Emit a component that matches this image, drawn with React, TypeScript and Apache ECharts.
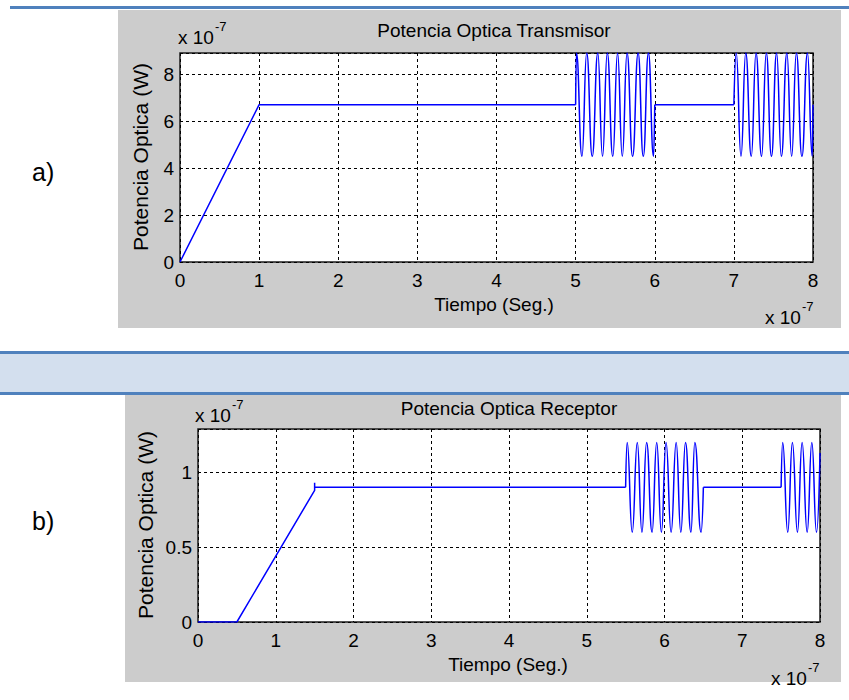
import React, { useEffect, useRef } from 'react';
import * as echarts from 'echarts';

// ---- data (time in units of 1e-7 s, power in units of 1e-7 W) ----
const xTickValues = [0, 1, 2, 3, 4, 5, 6, 7, 8];
const txYTickValues = [0, 2, 4, 6, 8];
const rxYTickValues = [0, 0.5, 1];

// Transmisor: ramp + flat parts
const txRampTime = [0, 1, 5];
const txRampPower = [0, 6.7, 6.7];
const txFlatTime = [6, 7];
const txFlatPower = [6.7, 6.7];
// Transmisor bursts (read peaks / troughs)
const txBurst1Time = [5.0, 5.01, 5.08, 5.14, 5.21, 5.28, 5.34, 5.40, 5.47, 5.53, 5.59, 5.65, 5.72, 5.79, 5.855, 5.92, 5.985, 6.0];
const txBurst1Power = [6.7, 8.9, 4.5, 8.9, 4.5, 8.9, 4.5, 8.9, 4.5, 8.9, 4.5, 8.9, 4.5, 8.9, 4.5, 8.9, 4.5, 6.7];
const txBurst2Time = [7.0, 7.03, 7.09, 7.15, 7.22, 7.28, 7.35, 7.41, 7.475, 7.54, 7.60, 7.67, 7.73, 7.79, 7.86, 7.93, 7.99, 8.0];
const txBurst2Power = [6.7, 8.9, 4.5, 8.9, 4.5, 8.9, 4.5, 8.9, 4.5, 8.9, 4.5, 8.9, 4.5, 8.9, 4.5, 8.9, 4.5, 6.7];

// Receptor: delay + ramp + flat parts
const rxRampTime = [0, 0.5, 1.5, 1.5, 1.5, 5.5];
const rxRampPower = [0, 0, 0.88, 0.93, 0.9, 0.9];
const rxFlatTime = [6.5, 7.5];
const rxFlatPower = [0.9, 0.9];
const rxBurst1Time = [5.5, 5.52, 5.585, 5.65, 5.71, 5.77, 5.84, 5.90, 5.96, 6.02, 6.085, 6.15, 6.21, 6.27, 6.34, 6.39, 6.47, 6.5];
const rxBurst1Power = [0.9, 1.2, 0.6, 1.2, 0.6, 1.2, 0.6, 1.2, 0.6, 1.2, 0.6, 1.2, 0.6, 1.2, 0.6, 1.2, 0.6, 0.9];
const rxBurst2Time = [7.5, 7.52, 7.585, 7.645, 7.71, 7.77, 7.835, 7.895, 7.955, 8.0];
const rxBurst2Power = [0.9, 1.2, 0.6, 1.2, 0.6, 1.2, 0.6, 1.2, 0.6, 1.13];

const pair = (t: number[], v: number[]) => t.map((x, i) => [x, v[i]]);

const FONT = '"Liberation Sans", Arial, Helvetica, sans-serif';
const LINE = '#0000ff';

export default function App() {
  const ref = useRef<HTMLDivElement>(null);
  useEffect(() => {
    if (!ref.current) return;
    const chart = echarts.init(ref.current, undefined, { renderer: 'svg' });

    const mkX = (gridIndex: number, margin: number) => ({
      type: 'value', gridIndex, min: 0, max: 8, interval: 1,
      axisLine: { show: false }, axisTick: { show: false },
      axisLabel: {
        color: '#000', fontSize: 19, fontFamily: FONT, margin,
        formatter: (v: number) => (xTickValues.includes(v) ? String(v) : ''),
      },
      splitLine: { show: true, lineStyle: { color: '#000', type: [3, 3], width: 1 } },
    });
    const mkY = (gridIndex: number, max: number, interval: number, ticks: number[], margin: number) => ({
      type: 'value', gridIndex, min: 0, max, interval,
      axisLine: { show: false }, axisTick: { show: false },
      axisLabel: {
        color: '#000', fontSize: 19, fontFamily: FONT, margin,
        formatter: (v: number) => (ticks.some((t) => Math.abs(t - v) < 1e-9) ? String(v) : ''),
      },
      splitLine: { show: true, lineStyle: { color: '#000', type: [3, 3], width: 1 } },
    });

    const lineSeries = (name: string, idx: number, data: number[][], smooth: boolean) => ({
      name, type: 'line', xAxisIndex: idx, yAxisIndex: idx, data,
      showSymbol: false, symbol: 'none', smooth: smooth ? 0.5 : false,
      smoothMonotone: smooth ? 'x' : undefined,
      lineStyle: { color: LINE, width: 1.5 }, clip: true, z: 5,
    });

    const txt = (text: string, x: number, y: number, fontSize: number, align = 'left', rotation = 0) => ({
      type: 'text', x, y, rotation, z: 20,
      style: {
        text, fontSize, fontFamily: FONT, fill: '#000',
        align, verticalAlign: 'middle', textAlign: align, textVerticalAlign: 'middle',
      },
    });

    chart.setOption({
      animation: false,
      backgroundColor: '#fff',
      grid: [
        { left: 180, top: 53, width: 633, height: 209, show: true, backgroundColor: '#fff', borderColor: '#1a1a1a', borderWidth: 1.5, containLabel: false },
        { left: 198, top: 429, width: 622, height: 193, show: true, backgroundColor: '#fff', borderColor: '#1a1a1a', borderWidth: 1.5, containLabel: false },
      ],
      xAxis: [mkX(0, 9), mkX(1, 9)],
      yAxis: [mkY(0, 8.9, 2, txYTickValues, 6), mkY(1, 1.29, 0.5, rxYTickValues, 6)],
      series: [
        lineSeries('Transmisor rampa', 0, pair(txRampTime, txRampPower), false),
        lineSeries('Transmisor pulso 1', 0, pair(txBurst1Time, txBurst1Power), true),
        lineSeries('Transmisor plano', 0, pair(txFlatTime, txFlatPower), false),
        lineSeries('Transmisor pulso 2', 0, pair(txBurst2Time, txBurst2Power), true),
        lineSeries('Receptor rampa', 1, pair(rxRampTime, rxRampPower), false),
        lineSeries('Receptor pulso 1', 1, pair(rxBurst1Time, rxBurst1Power), true),
        lineSeries('Receptor plano', 1, pair(rxFlatTime, rxFlatPower), false),
        lineSeries('Receptor pulso 2', 1, pair(rxBurst2Time, rxBurst2Power), true),
      ],
      graphic: [
        // page decorations
        { type: 'rect', z: -10, shape: { x: 10, y: 6, width: 839, height: 3 }, style: { fill: '#4f81bd' } },
        { type: 'rect', z: -10, shape: { x: 118, y: 10, width: 723, height: 318 }, style: { fill: '#cccccc' } },
        { type: 'rect', z: -10, shape: { x: 0, y: 351, width: 849, height: 3 }, style: { fill: '#4f81bd' } },
        { type: 'rect', z: -10, shape: { x: 0, y: 354, width: 849, height: 38 }, style: { fill: '#d3dfee' } },
        { type: 'rect', z: -10, shape: { x: 0, y: 392, width: 849, height: 3 }, style: { fill: '#4f81bd' } },
        { type: 'rect', z: -10, shape: { x: 125, y: 395, width: 716, height: 287 }, style: { fill: '#cccccc' } },
        // labels a) b)
        txt('a)', 32, 172, 25),
        txt('b)', 32, 521, 25),
        // top chart texts
        txt('Potencia Optica Transmisor', 494, 30, 19, 'center'),
        txt('x 10', 178, 37, 19),
        txt('-7', 215, 26, 13),
        txt('Tiempo (Seg.)', 494, 304, 19, 'center'),
        txt('x 10', 765, 317, 19),
        txt('-7', 802, 306, 13),
        txt('Potencia Optica (W)', 140, 157, 21, 'center', Math.PI / 2),
        // bottom chart texts
        txt('Potencia Optica Receptor', 509, 408, 19, 'center'),
        txt('x 10', 195, 415, 19),
        txt('-7', 232, 404, 13),
        txt('Tiempo (Seg.)', 508, 664, 19, 'center'),
        txt('x 10', 771, 678, 19),
        txt('-7', 808, 667, 13),
        txt('Potencia Optica (W)', 145, 525, 21, 'center', Math.PI / 2),
      ],
    });
    return () => chart.dispose();
  }, []);
  return <div ref={ref} style={{ position: 'absolute', left: 0, top: 0, width: 849, height: 700 }} />;
}
